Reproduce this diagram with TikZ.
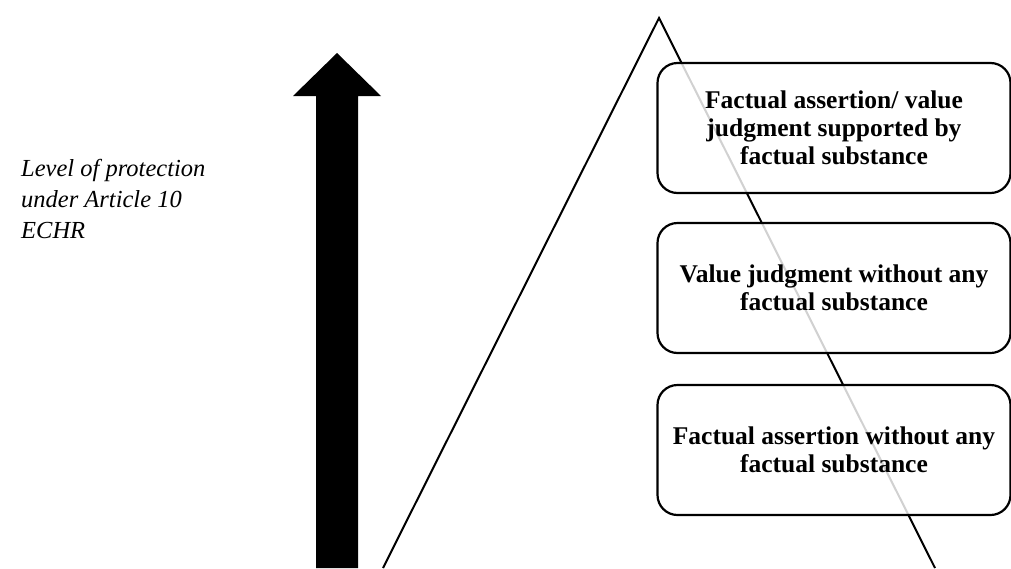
\documentclass[tikz,border=0pt]{standalone}
\usepackage{fontspec}
\setmainfont{Liberation Serif}
\begin{document}
\begin{tikzpicture}[x=1pt,y=-1pt,
  levelbox/.style={draw=black, line width=2.2pt, rounded corners=20pt, fill=white,
    fill opacity=0.82, text opacity=1, minimum width=353pt, minimum height=130pt,
    align=center, inner sep=0pt,
    font=\fontsize{25.5pt}{28pt}\selectfont\bfseries},
  sidelabel/.style={align=left, inner sep=0pt, anchor=base west,
    font=\fontsize{24.5pt}{31pt}\selectfont\itshape}
]
\useasboundingbox (0,0) rectangle (1011,568);
% upward arrow
\fill[black] (316,568) -- (316,96) -- (293,96) -- (337,53) -- (381,96) -- (358,96) -- (358,568) -- cycle;
% triangle
\coordinate (apex) at (659,18);
\coordinate (bl) at (383,568);
\coordinate (br) at (935,568);
\draw[line width=2pt, line join=miter] (bl) -- (apex) -- (br);
% boxes
\node[levelbox] (b1) at (834,128) {Factual assertion/ value\\judgment supported by\\factual substance};
\node[levelbox] (b2) at (834,288) {Value judgment without any\\factual substance};
\node[levelbox] (b3) at (834,450) {Factual assertion without any\\factual substance};
% side label
\node[sidelabel] (lab) at (21,238) {Level of protection\\under Article 10\\ECHR};
\end{tikzpicture}
\end{document}
